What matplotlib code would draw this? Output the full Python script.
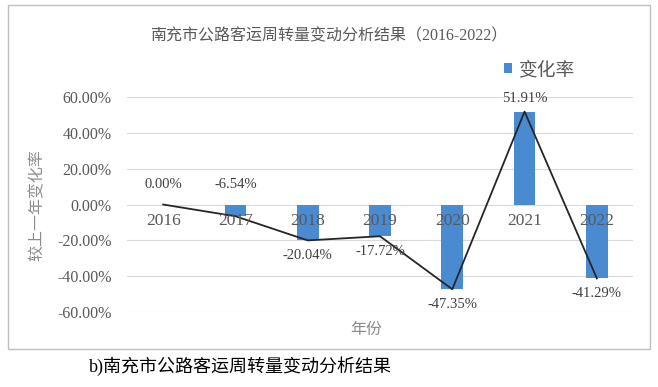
import matplotlib
matplotlib.use("Agg")
import matplotlib.pyplot as plt
from matplotlib.patches import Rectangle
from matplotlib.ticker import FuncFormatter

years = ["2016", "2017", "2018", "2019", "2020", "2021", "2022"]
change_rate = [0.00, -6.54, -20.04, -17.72, -47.35, 51.91, -41.29]
y_ticks = [-60, -40, -20, 0, 20, 40, 60]

fonts = ["Liberation Serif", "Noto Sans CJK SC", "DejaVu Sans"]
plt.rcParams["font.family"] = fonts

bar_color = "#4a8ad0"
text_gray = "#595959"

fig = plt.figure(figsize=(6.58, 3.87), dpi=100)
ax = fig.add_axes([0.193, 0.194, 0.769, 0.555])

x = range(len(years))
ax.bar(x, change_rate, width=0.3, color=bar_color, label="变化率", zorder=2)
ax.plot(x, change_rate, color="#262626", lw=1.3, zorder=3)

# data labels: above the zero line for the first two and the peak, below for the rest
for i, v in enumerate(change_rate):
    if i in (0, 1):
        y, va, dy = 0, "bottom", 10
    elif v > 0:
        y, va, dy = v, "bottom", 5
    else:
        y, va, dy = v, "top", -6
    ax.annotate(f"{v:.2f}%", (i, y), xytext=(0, dy), textcoords="offset points",
                ha="center", va=va, fontsize=10.5, color="#404040", zorder=5)

ax.set_ylim(-60, 60)
ax.set_xlim(-0.5, len(years) - 0.5)
ax.set_yticks(y_ticks)
ax.yaxis.set_major_formatter(FuncFormatter(lambda v, p: f"{v:.2f}%"))
ax.set_xticks(list(x))
ax.set_xticklabels(years)
ax.spines["bottom"].set_position(("data", 0))
for s in ax.spines.values():
    s.set_visible(False)
ax.tick_params(axis="both", length=0, labelcolor=text_gray)
ax.tick_params(axis="y", pad=11, labelsize=11.5)
ax.tick_params(axis="x", pad=6, labelsize=12.5)
ax.grid(axis="y", color="#d9d9d9", lw=0.8)
ax.set_axisbelow(True)
ax.xaxis.set_zorder(4)  # year labels sit on top of the bars

ax.set_ylabel("较上一年变化率", color="#8c8c8c", fontsize=11.5, labelpad=8)
fig.text(0.557, 0.147, "年份", ha="center", va="center", color="#8c8c8c", fontsize=11.5)

fig.text(0.5, 0.907, "南充市公路客运周转量变动分析结果（2016-2022）", ha="center", va="center",
         color=text_gray, fontsize=11.5)
ax.legend(loc="lower left", bbox_to_anchor=(0.745, 1.085), frameon=False,
          fontsize=13.5, handlelength=0.45, handleheight=0.45, handletextpad=0.3,
          labelcolor=text_gray, borderaxespad=0, borderpad=0)

fig.patches.append(Rectangle((0.012, 0.098), 0.976, 0.889, transform=fig.transFigure,
                             fill=False, edgecolor="#bfbfbf", lw=1))

fig.text(0.365, 0.055, "b)南充市公路客运周转量变动分析结果", ha="center", va="center",
         color="black", fontsize=13)

fig.savefig("out.png", dpi=100)
